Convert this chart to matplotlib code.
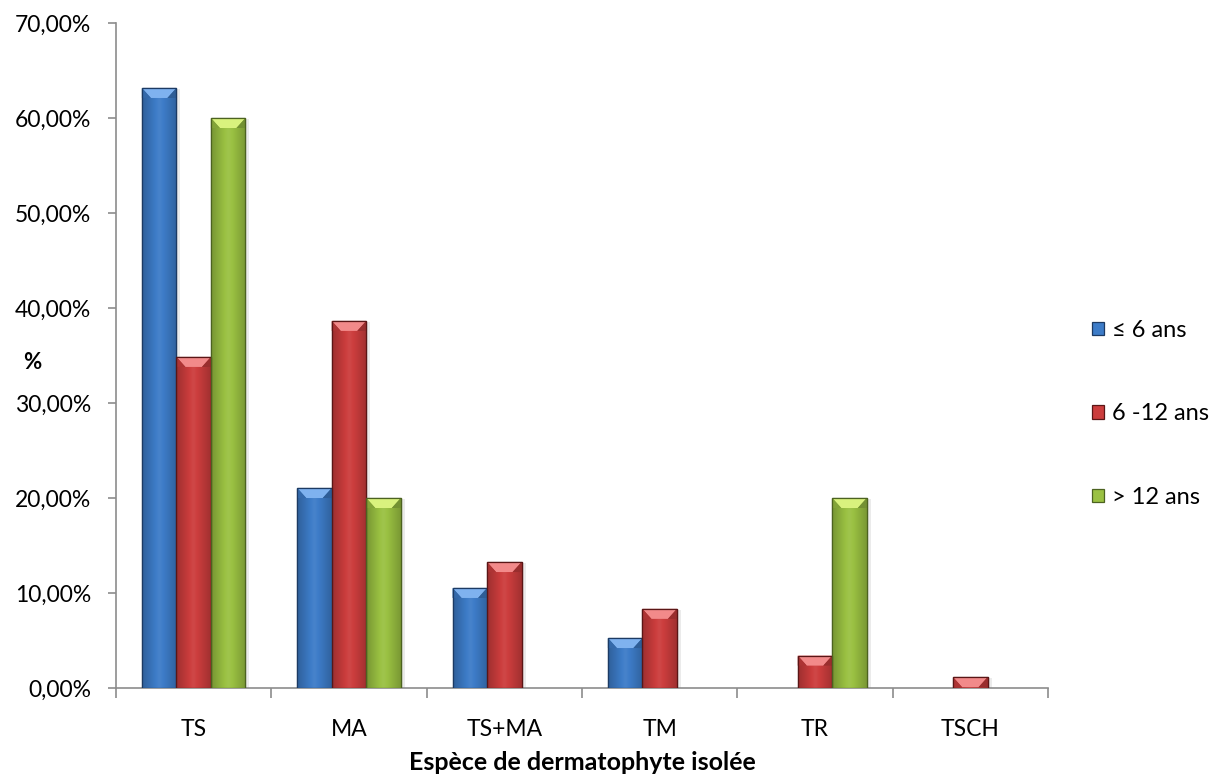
import numpy as np
import matplotlib
matplotlib.use("Agg")
import matplotlib.pyplot as plt
from matplotlib.patches import Polygon, Rectangle
from matplotlib.colors import to_rgb
from matplotlib.ticker import FuncFormatter, FixedLocator

plt.rcParams['font.family'] = ['Lato', 'DejaVu Sans']

categories = ["TS", "MA", "TS+MA", "TM", "TR", "TSCH"]
series_labels = ["\u2264 6 ans", "6 -12 ans", "> 12 ans"]
age_le6 = [63.16, 21.05, 10.53, 5.26, 0.0, 0.0]
age_6_12 = [34.85, 38.64, 13.26, 8.33, 3.41, 1.14]
age_gt12 = [60.0, 20.0, 0.0, 0.0, 20.0, 0.0]
series_values = [age_le6, age_6_12, age_gt12]

# base / edge / light-bevel colours for each series
base_colors = ["#3d7cc8", "#cc3d3d", "#9ac142"]
edge_colors = ["#1c3a63", "#5a1616", "#4c6220"]
bevel_colors = ["#7fb2ef", "#f28a8a", "#d9f27e"]


def shade(color, f):
    r, g, b = to_rgb(color)
    if f < 1:
        return (r * f, g * f, b * f)
    f = f - 1
    return (r + (1 - r) * f, g + (1 - g) * f, b + (1 - b) * f)


fig = plt.figure(figsize=(12.2, 7.81), dpi=100)
ax = fig.add_axes([116 / 1220, 1 - 688 / 781, 932 / 1220, 665 / 781])

n_series = len(series_values)
bar_w = 1.0 / (n_series + 1.5)
x = np.arange(len(categories)) + 0.5

containers = []
for i, vals in enumerate(series_values):
    offs = (i - (n_series - 1) / 2) * bar_w
    c = ax.bar(x + offs, vals, width=bar_w, color=base_colors[i],
               edgecolor=edge_colors[i], linewidth=0.9, label=series_labels[i],
               zorder=3)
    for p in c:
        if p.get_height() <= 0:
            p.set_linewidth(0)
    containers.append(c)

ax.set_xlim(0, len(categories))
ax.set_ylim(0, 70)

# pixel -> data conversions for the decorative details
px_y = 70 / 665.0
px_x = len(categories) / 932.0
bevel_h = 10 * px_y
bevel_in = 9 * px_x

for i, cont in enumerate(containers):
    base = base_colors[i]
    grad = np.array([shade(base, f) for f in
                     np.concatenate([np.linspace(0.78, 1.05, 12),
                                     np.linspace(1.05, 0.8, 12)])])[None, :, :]
    for p in cont:
        h = p.get_height()
        if h <= 0:
            continue
        x0 = p.get_x()
        w = p.get_width()
        # soft shadow
        ax.add_patch(Rectangle((x0 + 2 * px_x, -1 * px_y), w + 2 * px_x, h,
                               facecolor="#000000", alpha=0.08,
                               edgecolor="none", zorder=2))
        # horizontal shading across the bar face
        im = ax.imshow(grad, extent=[x0, x0 + w, 0, h], aspect="auto",
                       interpolation="bicubic", zorder=3.1)
        im.set_clip_path(p)
        # bevelled top
        bh = min(bevel_h, h)
        top = h
        inner = min(bevel_in, w / 2.2)
        ax.add_patch(Polygon([(x0, top), (x0 + w, top),
                              (x0 + w - inner, top - bh), (x0 + inner, top - bh)],
                             closed=True, facecolor=bevel_colors[i],
                             edgecolor="none", zorder=3.2))
        ax.add_patch(Polygon([(x0, top), (x0 + inner, top - bh), (x0, top - bh)],
                             closed=True, facecolor=shade(base, 0.85),
                             edgecolor="none", zorder=3.2))
        ax.add_patch(Polygon([(x0 + w, top), (x0 + w - inner, top - bh),
                              (x0 + w, top - bh)],
                             closed=True, facecolor=shade(base, 0.75),
                             edgecolor="none", zorder=3.2))
        ax.add_patch(Rectangle((x0, 0), w, h, facecolor="none",
                               edgecolor=edge_colors[i], linewidth=0.9,
                               zorder=3.3))

# axes styling
for side in ("top", "right"):
    ax.spines[side].set_visible(False)
for side in ("left", "bottom"):
    ax.spines[side].set_color("#8c8c8c")
    ax.spines[side].set_linewidth(1.2)

ax.set_yticks(np.arange(0, 71, 10))
ax.yaxis.set_major_formatter(FuncFormatter(lambda v, _: f"{v:.2f}%".replace(".", ",")))
ax.tick_params(axis="y", length=6, width=1.2, color="#8c8c8c", pad=12,
               labelsize=16.5, labelcolor="#000000")

ax.set_xticks(x)
ax.set_xticklabels(categories)
ax.xaxis.set_minor_locator(FixedLocator(np.arange(0, len(categories) + 1)))
ax.tick_params(axis="x", which="major", length=0, pad=22, labelsize=16.5)
ax.tick_params(axis="x", which="minor", length=7, width=1.2, color="#8c8c8c")

ax.set_xlabel("Esp\u00e8ce de dermatophyte isol\u00e9e", fontsize=18,
              fontweight="bold")
ax.xaxis.set_label_coords(0.5, -0.095)
ax.set_ylabel("%", rotation=0, fontsize=16, fontweight="bold",
              ha="center", va="center")
ax.yaxis.set_label_coords(-0.09, 0.49)

leg = ax.legend(loc="center left", bbox_to_anchor=(1092 / 1220, 1 - 414 / 781),
                bbox_transform=fig.transFigure, frameon=False, fontsize=17,
                handlelength=0.5, handleheight=0.5, handletextpad=0.35,
                labelspacing=2.65, borderaxespad=0, borderpad=0)

fig.savefig("out.png", dpi=100)
